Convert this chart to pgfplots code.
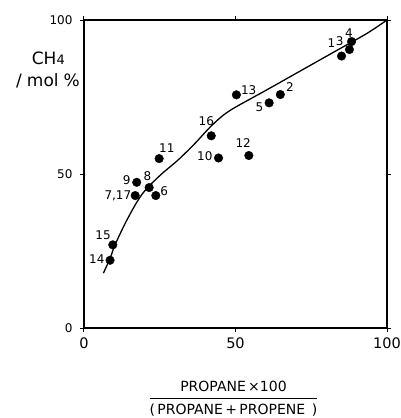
\documentclass[border=0pt]{standalone}
\usepackage{fontspec}
\setmainfont{DejaVu Sans}
\usepackage{pgfplots}
\usepackage{pgfplotstable}
\pgfplotsset{compat=1.18}

% sample points: x, y, label, label offset (pt)
\pgfplotstableread{
x    y    lab   dx     dy
85.0 88.3 1     -10    12.7
64.8 75.8 2     9.6    7
87.6 90.4 3     -9.7   8.7
88.3 93.0 4     -2.7   8.7
61.1 73.1 5     -9.7   -4
23.7 43.0 6     8.3    4.7
16.9 43.0 {7,17} -17.3 0
21.5 45.6 8     -1.7   11
17.4 47.3 9     -10    2.6
44.4 55.2 10    -13.7  1.7
24.8 55.0 11    7.7    10.3
54.4 56.0 12    -5.6   12.7
50.3 75.7 13    12.3   5
8.6  22.0 14    -13.3  1
9.5  27.0 15    -9.7   9.7
42.0 62.4 16    -5     15
}\pts

\begin{document}
\begin{tikzpicture}
\useasboundingbox (-84pt,-90pt) rectangle (317pt,328pt);
\begin{axis}[
  scale only axis, width=303pt, height=308pt,
  xmin=0, xmax=100, ymin=0, ymax=100,
  xtick={0,50,100}, ytick={0,50,100},
  tick align=outside, major tick length=4pt,
  tick style={line width=1pt, black},
  axis line style={line width=1.3pt},
  xticklabel style={font=\fontsize{14.5}{14.5}\selectfont, yshift=-2pt},
  yticklabel style={font=\fontsize{12}{12}\selectfont, xshift=-4pt},
  /pgf/number format/assume math mode=true,
  clip=false,
]
\addplot[black, line width=1.3pt, smooth, tension=0.5] coordinates {
(6.4,17.8)(8.6,22.6)(10.2,26.9)(13.5,33.8)(16.8,39.8)(19,43.2)(21.2,45.8)
(25.6,50)(31.1,54.6)(36.6,59.9)(41,64.6)(45,68.3)(49.3,71.3)(60.3,77.3)
(71.3,83.4)(82.3,89.5)(93.3,95.6)(100,100)
};
\addplot[only marks, mark=*, mark size=4.3pt, black,
  point meta=explicit symbolic,
  visualization depends on={\thisrow{dx} \as \dx},
  visualization depends on={\thisrow{dy} \as \dy},
  nodes near coords,
  every node near coord/.style={anchor=center, inner sep=0pt,
    xshift=\dx pt, yshift=\dy pt, font=\fontsize{12}{12}\selectfont},
] table[x=x, y=y, meta=lab] {\pts};
\node[anchor=east, inner sep=0pt, font=\fontsize{17}{17}\selectfont] at (rel axis cs:0,1) [xshift=-19pt, yshift=-38pt] {CH{\fontsize{13}{13}\selectfont 4}};
\node[anchor=east, inner sep=0pt, font=\fontsize{17}{17}\selectfont] at (rel axis cs:0,1) [xshift=-4pt, yshift=-61pt] {/\hspace{5pt}mol\hspace{5pt}\%};
\node[anchor=north, font=\fontsize{14}{14}\selectfont, inner sep=0pt] at (rel axis cs:0.5,0) [xshift=-2pt, yshift=-53pt]
  {\begin{tabular}{@{}c@{}}PROPANE\,×100\\[2pt]\hline\rule{0pt}{16pt}(\,PROPANE\,+\,PROPENE\, )\end{tabular}};
\end{axis}
\end{tikzpicture}
\end{document}
